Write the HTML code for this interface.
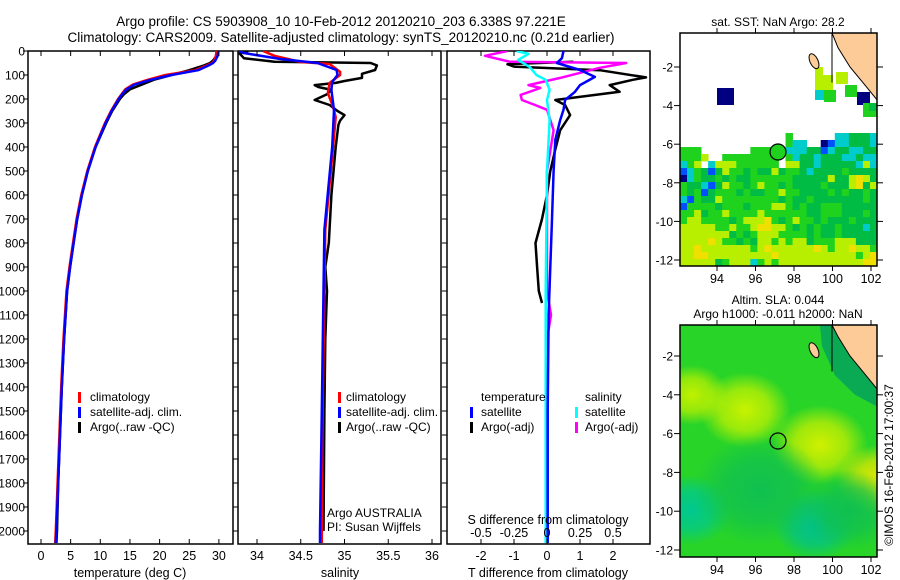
<!DOCTYPE html>
<html><head><meta charset="utf-8"><style>
html,body{margin:0;padding:0;background:#fff;}
svg{display:block;font-family:"Liberation Sans",sans-serif;}
text{fill:#000;}
</style></head><body>
<svg id="fig" width="900" height="580" viewBox="0 0 900 580">
<text x="341" y="26" font-size="13.5" text-anchor="middle">Argo profile: CS 5903908_10 10-Feb-2012 20120210_203 6.338S 97.221E</text>
<text x="341" y="42" font-size="13.5" text-anchor="middle">Climatology: CARS2009. Satellite-adjusted climatology: synTS_20120210.nc (0.21d earlier)</text>
<g id="p1"></g>
<g id="p2"></g>
<g id="p3"></g>
<g id="m1"></g>
<g id="m2"></g>
<text x="778" y="26" font-size="12" text-anchor="middle">sat. SST: NaN Argo: 28.2</text>
<text x="778" y="304" font-size="12" text-anchor="middle">Altim. SLA: 0.044</text>
<text x="778" y="318" font-size="12" text-anchor="middle">Argo h1000: -0.011 h2000: NaN</text>
<text transform="translate(893,465) rotate(-90)" font-size="12" text-anchor="middle">©IMOS 16-Feb-2012 17:00:37</text>
</svg>
<script>
// ---- data ----
const depthTicks=[0,100,200,300,400,500,600,700,800,900,1000,1100,1200,1300,1400,1500,1600,1700,1800,1900,2000];
const tTicks=[0,5,10,15,20,25,30];
const sTicks=[34,34.5,35,35.5,36];
const dTTicks=[-2,-1,0,1,2];
const dSTicks=[-0.5,-0.25,0,0.25,0.5];
const dSTickLabels=["-0.5","-0.25","0","0.25","0.5"];
const argoTDepth=[0,20,40,50,60,80,100,120,140,160,180,200,250,300,400,500,600,700,800,900,1000,1200,1400,1600,1800,2000,2050];
const argoT=[29.8,29.6,29,28.5,27.5,25,22,19,17,15,14,13.3,12,11,9.2,7.9,6.9,6.1,5.5,4.9,4.4,3.9,3.5,3.2,2.9,2.7,2.6];
const climT=[29.6,29.5,29.2,28.8,28,26,21,18,15.5,14.2,13.6,13,11.8,10.8,9.1,7.8,6.8,6,5.4,4.8,4.3,3.8,3.4,3.1,2.8,2.5,2.4];
const satT=[29.9,29.8,29.4,29,28.3,26.5,22,18.5,15.8,14.4,13.7,13.1,11.9,10.9,9.2,7.9,6.9,6.1,5.5,4.9,4.4,3.9,3.5,3.2,2.9,2.6,2.5];
const argoSDepth=[0,10,30,45,50,60,79,95,112,125,133,142,150,162,180,204,225,250,267,290,308,400,600,800,900,1000,1200,1500,2000];
const argoS=[33.9,33.8,33.85,34.2,35.3,35.37,35.35,35.2,35.2,35.0,34.9,34.66,34.7,34.85,34.8,34.66,34.83,34.92,35.0,34.95,34.93,34.9,34.85,34.82,34.78,34.8,34.78,34.77,34.76];
const climSDepth=[0,20,46,54,87,100,133,175,233,275,400,745,1000,1500,2000,2050];
const climS=[34.07,34.2,34.5,34.83,34.95,34.95,34.83,34.81,34.87,34.9,34.87,34.78,34.77,34.75,34.74,34.74];
const satSDepth=[0,8,33,50,79,100,129,162,246,400,745,1000,1500,2000,2050];
const satS=[33.8,33.84,34.26,34.69,34.91,34.92,34.86,34.85,34.88,34.86,34.77,34.76,34.74,34.72,34.72];
const satDTDepth=[0,30,50,79,108,142,170,204,245,288,370,500,700,900,1100,1500,2000,2050];
const satDT=[0.5,0.45,0.3,1.0,1.45,1.0,0.85,0.55,0.5,0.4,0.25,0.2,0.15,0.1,0.05,0.02,0.02,0.02];
const argoDTDepth=[45,55,65,80,110,120,142,170,204,225,267,330,410,500,600,700,800,900,1000,1050];
const argoDT=[0.8,-1.2,-1.0,1.6,3.0,2.6,1.9,2.2,0.25,0.55,0.7,0.4,0.25,0.1,0,-0.15,-0.35,-0.3,-0.25,-0.15];
const satDSDepth=[0,12,37,67,100,120,162,204,288,500,1000,2000,2050];
const satDS=[-0.23,-0.14,-0.22,-0.13,-0.08,-0.01,0.02,0,0.02,0,-0.01,-0.01,-0.01];
const argoDSDepth=[0,20,45,50,70,112,142,154,183,204,225,245,330,500,1000,1100,1200,1500,2000,2050];
const argoDS=[-0.3,-0.47,-0.28,0.6,0.4,0.1,-0.14,-0.05,-0.2,-0.19,-0.09,0,0.05,0,0,0.03,0,0,0,0];

const NS="http://www.w3.org/2000/svg";
function el(tag,attrs,parent){const e=document.createElementNS(NS,tag);for(const k in attrs)e.setAttribute(k,attrs[k]);parent.appendChild(e);return e;}
const yD=d=>51+d*0.24;
const pTop=51,bot=544;

function frame(g,x0,x1,name){
  const r=el('rect',{x:x0,y:pTop,width:x1-x0,height:bot-pTop,fill:'none',stroke:'#000','stroke-width':1.5},g);
  
  
  depthTicks.forEach(d=>{
    const t=el('line',{x1:x0-5,x2:x0,y1:yD(d),y2:yD(d),stroke:'#000'},g);
    
    
  });
}
function xTicks(g,vals,labels,xf,y,name){
  vals.forEach((v,i)=>{
    const t=el('line',{x1:xf(v),x2:xf(v),y1:bot,y2:bot-5,stroke:'#000'},g);
    
    
    const t2=el('line',{x1:xf(v),x2:xf(v),y1:pTop,y2:pTop+5,stroke:'#000'},g);
    
    
    const tx=el('text',{x:xf(v),y:y,'font-size':12.5,'text-anchor':'middle'},g);
    tx.textContent=labels[i];
    
    
  });
}
function line(g,xs,ds,xf,color,name,w){
  const pts=xs.map((v,i)=>xf(v).toFixed(1)+','+yD(ds[i]).toFixed(1)).join(' ');
  const p=el('polyline',{points:pts,fill:'none',stroke:color,'stroke-width':w||2.5,'stroke-linejoin':'round'},g);
  
  
}
function txt(g,x,y,s,name,size,anchor){
  const t=el('text',{x:x,y:y,'font-size':size||12,'text-anchor':anchor||'start'},g);
  t.textContent=s;
  
  
  return t;
}
function legBar(g,x,y,c,name){
  const r=el('rect',{x:x,y:y-9,width:3,height:11,fill:c},g);
  
  
}

// Panel 1
const p1=document.getElementById('p1');
const xT=t=>41+5.93*t;
frame(p1,28,233,'temperature-frame');
depthTicks.forEach(d=>{
  txt(p1,25,yD(d)+4.5,String(d),'depth-tick-label',12,'end');
});
const clip1=el('clipPath',{id:'c1'},p1);el('rect',{x:28,y:pTop,width:205,height:bot-pTop},clip1);
const g1=el('g',{'clip-path':'url(#c1)'},p1);
line(g1,argoT,argoTDepth,xT,'#000','argo-temperature-line');
line(g1,climT,argoTDepth,xT,'#f00','climatology-temperature-line');
line(g1,satT,argoTDepth,xT,'#00f','satellite-temperature-line');
xTicks(p1,tTicks,tTicks.map(String),xT,560,'temperature');
txt(p1,130,577,'temperature (deg C)','temperature-axis-title',12.5,'middle');
legBar(p1,78,401,'#f00','legend-climatology-swatch');txt(p1,90,401,'climatology','legend-climatology');
legBar(p1,78,416,'#00f','legend-satellite-swatch');txt(p1,90,416,'satellite-adj. clim.','legend-satellite');
legBar(p1,78,431,'#000','legend-argo-swatch');txt(p1,90,431,'Argo(..raw -QC)','legend-argo');

// Panel 2
const p2=document.getElementById('p2');
const xS=s=>257+87.5*(s-34);
frame(p2,238,441,'salinity-frame');
const clip2=el('clipPath',{id:'c2'},p2);el('rect',{x:238,y:pTop,width:203,height:bot-pTop},clip2);
const g2=el('g',{'clip-path':'url(#c2)'},p2);
line(g2,argoS,argoSDepth,xS,'#000','argo-salinity-line');
line(g2,climS,climSDepth,xS,'#f00','climatology-salinity-line');
line(g2,satS,satSDepth,xS,'#00f','satellite-salinity-line');
xTicks(p2,sTicks,sTicks.map(String),xS,560,'salinity');
txt(p2,340,577,'salinity','salinity-axis-title',12.5,'middle');
legBar(p2,338,401,'#f00','legend-climatology-swatch');txt(p2,346,401,'climatology','legend-climatology');
legBar(p2,338,416,'#00f','legend-satellite-swatch');txt(p2,346,416,'satellite-adj. clim.','legend-satellite');
legBar(p2,338,431,'#000','legend-argo-swatch');txt(p2,346,431,'Argo(..raw -QC)','legend-argo');
txt(p2,327,517,'Argo AUSTRALIA','float-owner');
txt(p2,327,531,'PI: Susan Wijffels','float-pi');

// Panel 3
const p3=document.getElementById('p3');
const xDT=t=>547+33*t;
const xDS=s=>547+132*s;
frame(p3,447,650,'difference-frame');
const clip3=el('clipPath',{id:'c3'},p3);el('rect',{x:447,y:pTop,width:203,height:bot-pTop},clip3);
const g3=el('g',{'clip-path':'url(#c3)'},p3);
line(g3,argoDT,argoDTDepth,xDT,'#000','argo-temperature-diff-line');
line(g3,argoDS,argoDSDepth,xDS,'#f0f','argo-salinity-diff-line');
line(g3,satDS,satDSDepth,xDS,'#0ff','satellite-salinity-diff-line');
line(g3,satDT,satDTDepth,xDT,'#00f','satellite-temperature-diff-line');
xTicks(p3,dTTicks,dTTicks.map(String),xDT,560,'t-diff');
dSTicks.forEach((v,i)=>{txt(p3,xDS(v),537,dSTickLabels[i],'s-diff-tick-label',12.5,'middle');});
txt(p3,548,524,'S difference from climatology','s-diff-axis-title',12.5,'middle');
txt(p3,548,577,'T difference from climatology','t-diff-axis-title',12.5,'middle');
txt(p3,481,401,'temperature','legend-temperature-header');
txt(p3,585,401,'salinity','legend-salinity-header');
legBar(p3,470,416,'#00f','legend-sat-t-swatch');txt(p3,481,416,'satellite','legend-sat-t');
legBar(p3,470,431,'#000','legend-argo-t-swatch');txt(p3,481,431,'Argo(-adj)','legend-argo-t');
legBar(p3,575,416,'#0ff','legend-sat-s-swatch');txt(p3,585,416,'satellite','legend-sat-s');
legBar(p3,575,431,'#f0f','legend-argo-s-swatch');txt(p3,585,431,'Argo(-adj)','legend-argo-s');

// ---- maps ----
const lonTicks=[94,96,98,100,102];
const latTicks=[-2,-4,-6,-8,-10,-12];
const sstRows=[
"...............g......ccGGGc",
"...............gcc..nbccGGGc",
"ggg.......gggggcccGGbcGGccGG",
"gggy..gggggggg.gcGGcGGGccGcc",
"cgy.cyyygggggg.yyGGcGGGGGcyc",
"bcgGbGyggGgGGyGggGcGGGGgGGGG",
"ncgGGgGgGGggggggGGGGGyGGyYyG",
"gGGcbGyggGgyggGgGGGGgGGGyYGy",
"gGgbGgggGgGGggyggGGGGgGgGGgG",
"cbgGGyggggggggGgGGgGGGGGGGgG",
"bggggGgggGgggyygGgGGgggGGGGG",
"ggyGggyggggyggggggGGgggGGGgG",
"gyyggggGgyyyYgGgyggGgGGGgGGG",
"yyyyyggyggyYYyygGgGgGGgGGGcG",
"yyyyyyyGgGgyyyggggGgGGgGGGGG",
"yyyyYyggGgGyygygyyGgggyyyGGG",
"yyYyyyyyyygyYyyyyyyYygyyYyyg",
"yyYYyyyyyyyyyYyyyyyyyyyyygyY",
"yyyyyGgyyycgygyyyyyyyyyyyyYY"];
const sstColors={g:'#1ed21e',G:'#00bb44',y:'#b8ee00',Y:'#f0e000',c:'#00cccc',b:'#0050ff',n:'#000080'};
const lonX=lon=>717+19.25*(lon-94);

function mapFrame(g,y0,y1,latY,name){
  latTicks.forEach(l=>{
    const t=el('line',{x1:674,x2:680,y1:latY(l),y2:latY(l),stroke:'#000'},g);
    
    const t2=el('line',{x1:877,x2:883,y1:latY(l),y2:latY(l),stroke:'#000'},g);
    
    txt(g,673,latY(l)+4.5,String(l),'lat-tick-label',12,'end');
  });
  lonTicks.forEach(l=>{
    const t=el('line',{x1:lonX(l),x2:lonX(l),y1:y0-5,y2:y0,stroke:'#000'},g);
    
    const t2=el('line',{x1:lonX(l),x2:lonX(l),y1:y1,y2:y1+5,stroke:'#000'},g);
    
    txt(g,lonX(l),y1+17,String(l),'lon-tick-label',12.5,'middle');
  });
  const r=el('rect',{x:680,y:y0,width:197,height:y1-y0,fill:'none',stroke:'#000','stroke-width':1.5},g);
  
}
function land(g,y0,latY,coastFill){
  if(coastFill){const s=el('polygon',{points:`820,${y0} 877,${y0} 877,${latY(-4.6)} 855,${latY(-4)} 835,${latY(-3)} 822,${latY(-1.5)}`,fill:coastFill},g);
    }
  const p=el('polygon',{points:`832,${y0} 877,${y0} 877,${latY(-3.7)} 866,${latY(-3)} 850,${latY(-2)} 838,${latY(-1)}`,fill:'#fccb98',stroke:'#000','stroke-width':1},g);
  
  const i1=el('ellipse',{cx:814,cy:latY(-1.7),rx:4,ry:8,fill:'#fccb98',stroke:'#000',transform:`rotate(-25 814 ${latY(-1.7)})`},g);
  
  const l=el('line',{x1:832,y1:y0,x2:832,y2:latY(-2.8),stroke:'#000'},g);
  
}

// Map 1
const m1=document.getElementById('m1');
const lat1=l=>67+19.3*(-2-l);
const cw=197/28, ch=7;
sstRows.forEach((row,r)=>{
  for(let c=0;c<row.length;c++){
    const k=row[c]; if(k==='.')continue;
    const q=el('rect',{x:680+c*cw,y:133+r*ch,width:cw+0.4,height:ch+0.4,fill:sstColors[k]},m1);
    
    
  }
});
[[717,88,17,'#000080'],[815,67,8,'#b8ee00'],[815,75,18,'#b8ee00'],[815,90,10,'#00cccc'],[824,90,12,'#1ed21e'],[836,72,12,'#b8ee00'],[845,85,12,'#1ed21e'],[857,92,13,'#000080'],[863,103,14,'#1ed21e'],[869,103,8,'#00bb44']].forEach(b=>{
  const q=el('rect',{x:b[0],y:b[1],width:b[2],height:b[2],fill:b[3]},m1);
  
});
land(m1,33,lat1,null);
const a1=el('circle',{cx:778,cy:152,r:8,fill:'#1ed21e',stroke:'#000','stroke-width':1.2},m1);

mapFrame(m1,33,266,lat1,'sst-map-frame');

// Map 2
const m2=document.getElementById('m2');
const lat2=l=>356+19.4*(-2-l);
const defs=el('defs',{},m2);
const blobs=[[692,395,30,'#c0f000'],[745,410,38,'#c8f200'],[820,445,40,'#d0f000'],[878,480,35,'#e6e800'],[690,510,35,'#00c890'],[815,525,35,'#00c090'],[760,490,55,'#10c050'],[850,510,40,'#10c050']];
const bg=el('rect',{x:680,y:325,width:197,height:232,fill:'#28d428'},m2);


const clipM=el('clipPath',{id:'cm2'},defs);el('rect',{x:680,y:325,width:197,height:232},clipM);
blobs.forEach((b,i)=>{
  const rg=el('radialGradient',{id:'rg'+i},defs);
  el('stop',{offset:'0%','stop-color':b[3],'stop-opacity':1},rg);
  el('stop',{offset:'55%','stop-color':b[3],'stop-opacity':0.7},rg);
  el('stop',{offset:'100%','stop-color':b[3],'stop-opacity':0},rg);
  const c=el('ellipse',{cx:b[0],cy:b[1],rx:b[2]*1.2,ry:b[2],fill:'url(#rg'+i+')','clip-path':'url(#cm2)'},m2);
  
  
});
land(m2,325,lat2,'#0aaa55');
const a2=el('circle',{cx:778,cy:441,r:8,fill:'none',stroke:'#000','stroke-width':1.2},m2);

mapFrame(m2,325,557,lat2,'sla-map-frame');
</script>
</body></html>
